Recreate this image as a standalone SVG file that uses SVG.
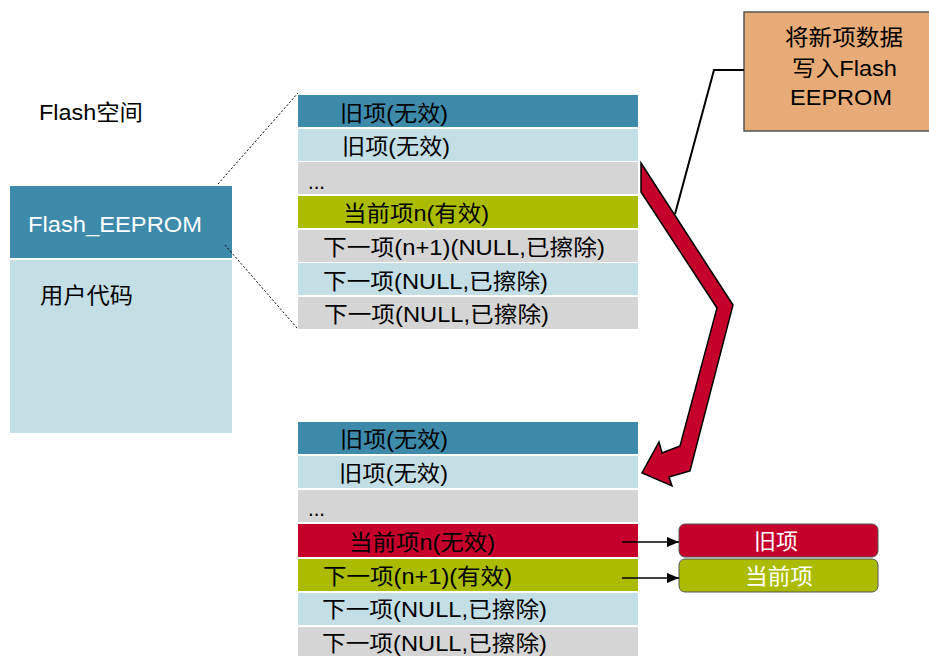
<svg xmlns="http://www.w3.org/2000/svg" width="929" height="656" viewBox="0 0 929 656">
<style>
text{font-family:"Liberation Sans","Noto Sans CJK SC",sans-serif;font-size:22px;fill:#000;}
.w{fill:#fff;}
.dk{fill:#3d8aaa;}
.lt{fill:#c4dee5;}
.gy{fill:#d5d5d5;}
.ol{fill:#abbc00;}
.rd{fill:#c4002b;}
.dot{stroke:#000;stroke-width:1;stroke-dasharray:2 2;fill:none;}
.ln{stroke:#000;stroke-width:1.3;fill:none;}
</style>
<defs>
<marker id="ah" markerWidth="12" markerHeight="10" refX="12" refY="5" orient="auto" markerUnits="userSpaceOnUse">
<path d="M0,0 L12,5 L0,10 Z" fill="#000"/>
</marker>
</defs>
<rect width="929" height="656" fill="#fff"/>

<g id="flash-space-label">
<text x="39" y="120" textLength="104" lengthAdjust="spacingAndGlyphs">Flash空间</text>
</g>

<g id="flash-block">
<rect class="dk" x="10" y="186" width="222" height="72"/>
<text class="w" x="28" y="232" textLength="174" lengthAdjust="spacingAndGlyphs">Flash_EEPROM</text>
<rect class="lt" x="10" y="260" width="222" height="173"/>
<text x="40" y="303" textLength="93" lengthAdjust="spacingAndGlyphs">用户代码</text>
</g>

<g id="table-before">
<rect class="dk" x="298" y="95" width="340" height="32"/>
<text x="340" y="121" textLength="108" lengthAdjust="spacingAndGlyphs">旧项(无效)</text>
<rect class="lt" x="298" y="129" width="340" height="32"/>
<text x="342" y="154" textLength="108" lengthAdjust="spacingAndGlyphs">旧项(无效)</text>
<rect class="gy" x="298" y="162" width="340" height="32"/>
<text x="308" y="189" textLength="17" lengthAdjust="spacingAndGlyphs">...</text>
<rect class="ol" x="298" y="196" width="340" height="32"/>
<text x="343" y="221" textLength="146" lengthAdjust="spacingAndGlyphs">当前项n(有效)</text>
<rect class="gy" x="298" y="230" width="340" height="32"/>
<text x="323" y="255" textLength="282" lengthAdjust="spacingAndGlyphs">下一项(n+1)(NULL,已擦除)</text>
<rect class="lt" x="298" y="263" width="340" height="32"/>
<text x="323" y="289" textLength="225" lengthAdjust="spacingAndGlyphs">下一项(NULL,已擦除)</text>
<rect class="gy" x="298" y="297" width="340" height="32"/>
<text x="324" y="322" textLength="225" lengthAdjust="spacingAndGlyphs">下一项(NULL,已擦除)</text>
</g>

<g id="table-after">
<rect class="dk" x="298" y="422" width="340" height="32"/>
<text x="340" y="447" textLength="108" lengthAdjust="spacingAndGlyphs">旧项(无效)</text>
<rect class="lt" x="298" y="456" width="340" height="32"/>
<text x="339" y="481" textLength="109" lengthAdjust="spacingAndGlyphs">旧项(无效)</text>
<rect class="gy" x="298" y="490" width="340" height="32"/>
<text x="308" y="516" textLength="17" lengthAdjust="spacingAndGlyphs">...</text>
<rect class="rd" x="298" y="524" width="340" height="33"/>
<text x="349" y="550" textLength="146" lengthAdjust="spacingAndGlyphs">当前项n(无效)</text>
<rect class="ol" x="298" y="559" width="340" height="32"/>
<text x="323" y="584" textLength="189" lengthAdjust="spacingAndGlyphs">下一项(n+1)(有效)</text>
<rect class="lt" x="298" y="593" width="340" height="32"/>
<text x="322" y="617" textLength="225" lengthAdjust="spacingAndGlyphs">下一项(NULL,已擦除)</text>
<rect class="gy" x="298" y="627" width="340" height="33"/>
<text x="322" y="651" textLength="225" lengthAdjust="spacingAndGlyphs">下一项(NULL,已擦除)</text>
</g>

<g id="note-write">
<rect x="744" y="12" width="190" height="119" fill="#e6ab77" stroke="#555" stroke-width="1.5"/>
<text x="785" y="45" textLength="118" lengthAdjust="spacingAndGlyphs">将新项数据</text>
<text x="792" y="76" textLength="105" lengthAdjust="spacingAndGlyphs">写入Flash</text>
<text x="790" y="105" textLength="102" lengthAdjust="spacingAndGlyphs">EEPROM</text>
</g>

<g id="legend-old">
<rect class="rd" x="679" y="524" width="199" height="33" rx="6" stroke="#555" stroke-width="1"/>
<text class="w" x="754" y="549" textLength="44" lengthAdjust="spacingAndGlyphs">旧项</text>
</g>
<g id="legend-current">
<rect class="ol" x="679" y="559" width="199" height="33" rx="6" stroke="#555" stroke-width="1"/>
<text class="w" x="745" y="584" textLength="68" lengthAdjust="spacingAndGlyphs">当前项</text>
</g>

<g id="connectors">
<line class="dot" x1="218" y1="184" x2="298" y2="93"/>
<line class="dot" x1="225" y1="245" x2="297" y2="328"/>
<polyline points="744,70 714,70 675,214" fill="none" stroke="#000" stroke-width="2"/>
<polygon points="641,163 733,305 690,471 669,477 672,486 642,473 659,442 662,453 680,446 717,308 641,192" fill="#c4002b" stroke="#000" stroke-width="1.5" stroke-linejoin="miter"/>
<line class="ln" x1="622" y1="542" x2="679" y2="542" marker-end="url(#ah)"/>
<line class="ln" x1="622" y1="578" x2="679" y2="578" marker-end="url(#ah)"/>
</g>
</svg>
